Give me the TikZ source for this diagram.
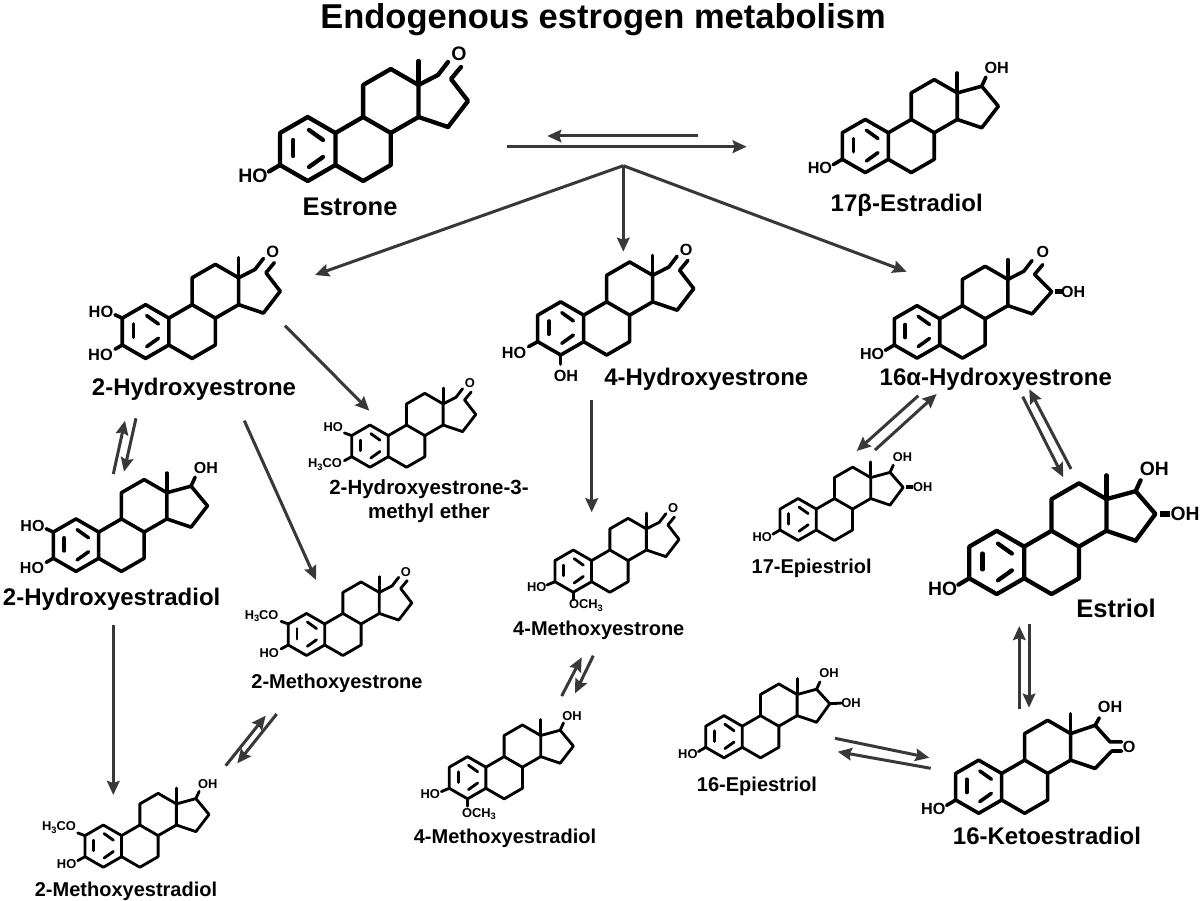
\documentclass[tikz,border=0pt]{standalone}
\usepackage{fontspec}
\setmainfont{Liberation Sans}
\usetikzlibrary{arrows.meta}
\definecolor{arrowgray}{HTML}{383838}
\newcounter{atomc}
\tikzset{
  bd/.style={line cap=round,line join=round,black},
  atomlab/.style={inner sep=0pt,font=\fontsize{\fs}{\fs}\selectfont\bfseries,text=black},
  rxnarrow/.style={draw=arrowgray,fill=arrowgray,line width=3pt,-{Stealth[length=14pt,width=12.5pt,inset=2pt]}},
  namelab/.style={inner sep=0pt,align=center,text=black}
}
% atom label in the local frame of a steroid
\newcommand\atom[3]{\stepcounter{atomc}\node[atomlab] (atom\theatomc) at (#1,#2) {#3};}
\newcommand\bnd[1]{\draw[bd] #1;}
% steroid skeleton without the top of ring D: x, y of C3, scale, extras
\newcommand\ster[4]{%
  \pgfmathsetmacro\lw{4.3*#3}\pgfmathsetmacro\fs{19.5*#3}%
  \begin{scope}[shift={(#1,#2)},x=#3pt,y=#3pt,line width=\lw pt]
    \draw[bd] (0,0)--(0,32)--(27.7,48)--(55.4,32)--(55.4,0)--(27.7,-16)--cycle;
    \draw[bd] (55.4,32)--(83.1,48)--(110.8,32)--(110.8,0)--(83.1,-16)--(55.4,0);
    \draw[bd] (83.1,48)--(83.1,80)--(110.8,96)--(138.5,80)--(138.5,48)--(110.8,32);
    \draw[bd] (138.5,48)--(168,38);
    \draw[bd] (138.5,80)--(138.5,104);
    \draw[bd] (13.3,25)--(13.3,9);
    \draw[bd] (29,35)--(43,25);
    \draw[bd] (29,-2)--(43,8);
    #4
  \end{scope}}
% ring D variants
\newcommand\Dketo{\bnd{(138.5,80)--(158,90)--(168,103)}\bnd{(181,98)--(171,86)--(188,64)--(168,38)}\atom{179}{111}{O}}
\newcommand\Dbeta{\bnd{(138.5,80)--(168,88)--(188,64)--(168,38)}\bnd{(168,88)--(173,99)}\atom{186}{110}{OH}}
\newcommand\Dalphaketo{\bnd{(138.5,80)--(158,90)--(168,103)}\bnd{(181,98)--(171,86)--(192,65)--(168,38)}\atom{181}{113}{O}\draw[bd,line width=1.4*\lw pt,line cap=butt] (196,65)--(204,65);\atom{218}{65}{OH}}
\newcommand\Dtriol{\bnd{(138.5,80)--(168,88)--(188,65)--(168,38)}\bnd{(168,88)--(173,99)}\draw[bd,line width=1.4*\lw pt,line cap=butt] (193,65)--(203,65);\atom{187}{111}{OH}\atom{218}{65}{OH}}
\newcommand\Depi{\bnd{(138.5,80)--(168,88)--(188,66)--(168,38)}\bnd{(168,88)--(173,99)}\bnd{(188,66)--(205,67)}\atom{187}{112}{OH}\atom{220}{67}{OH}}
\newcommand\Dketosixteen{\bnd{(138.5,80)--(168,90)--(186,70)--(200,70)}\bnd{(200,59)--(188,59)--(168,38)}\bnd{(168,90)--(173,99)}\atom{186}{111.6}{OH}\atom{209}{64}{O}}
% ring A substituents
\newcommand\HOthree{\bnd{(0,0)--(-11,-6.5)}\atom{-27}{-11}{HO}}
\newcommand\HOtwo{\bnd{(0,32)--(-8.7,36)}\atom{-25.4}{40}{HO}}
\newcommand\HOthreeb{\bnd{(0,0)--(-8.7,-5)}\atom{-26}{-12}{HO}}
\newcommand\methyl{H\raisebox{-.22em}{\scalebox{.72}{3}}CO}
\newcommand\methylb{OCH\raisebox{-.22em}{\scalebox{.72}{3}}}
% named compound label, centred on its capital height
\newcommand\lab[5]{\node[namelab,font=\fontsize{#4}{#4}\selectfont\bfseries,text height=.72*#4 pt,text depth=0pt] (#1) at (#2,#3) {#5};}
% reaction arrow between two named end points
\newcommand\rxn[5]{\coordinate (#1s) at (#2,#3);\coordinate (#1t) at (#4,#5);\draw[rxnarrow] (#1s)--(#1t);}
\begin{document}
\begin{tikzpicture}[x=1pt,y=-1pt]
\useasboundingbox[fill=white] (0,0) rectangle (1200,901);
\lab{title}{603}{16}{34.5}{Endogenous estrogen metabolism}
% structures
\ster{280}{165}{1}{\Dketo\HOthree}
\ster{842.3}{159.3}{.83}{\Dbeta\HOthree}
\ster{122.3}{345}{.84}{\Dketo\HOtwo\HOthreeb}
\ster{537.7}{341.7}{.83}{\Dketo\bnd{(0,0)--(-11,-6)}\atom{-28.5}{-13}{HO}\bnd{(27.7,-16)--(27.7,-27)}\atom{34}{-41}{OH}}
\ster{894.3}{345}{.82}{\Dalphaketo\HOthree}
\ster{351.7}{456.7}{.66}{\Dketo\bnd{(0,32)--(-11,36)}\atom{-27.8}{44.4}{HO}\bnd{(0,0)--(-11,-6)}\atom{-40.4}{-11.6}{\methyl}}
\ster{53.3}{558.3}{.82}{\Dbeta\HOtwo\HOthreeb}
\ster{288.3}{645}{.657}{\Dketo\bnd{(0,32)--(-11,36)}\atom{-40.6}{44}{\methyl}\bnd{(0,0)--(-11,-6)}\atom{-29}{-12.7}{HO}}
\ster{85}{856.7}{.66}{\Dbeta\bnd{(0,32)--(-11,36)}\atom{-39.4}{44.4}{\methyl}\bnd{(0,0)--(-11,-6)}\atom{-27.8}{-11.6}{HO}}
\ster{555}{581.7}{.66}{\Dketo\bnd{(0,0)--(-12,-5)}\atom{-27.8}{-7.6}{HO}\bnd{(27.7,-16)--(27.7,-27)}\atom{47}{-36.4}{\methylb}}
\ster{449.3}{788.3}{.66}{\Dbeta\bnd{(0,0)--(-12,-5)}\atom{-29}{-9}{HO}\bnd{(27.7,-16)--(27.7,-27)}\atom{45}{-39}{\methylb}}
\ster{780}{530}{.655}{\Dtriol\HOthree}
\ster{969.3}{578.3}{.99}{\Dtriol\HOthree}
\ster{705.7}{747.3}{.66}{\Depi\HOthree}
\ster{955.7}{800}{.83}{\Dketosixteen\HOthree}
% compound names
\lab{estrone}{350}{206.7}{25.5}{Estrone}
\lab{estradiol}{906.7}{203}{24}{17β-Estradiol}
\lab{twohe}{194}{387}{24}{2-Hydroxyestrone}
\lab{fourhe}{706.3}{377}{24}{4-Hydroxyestrone}
\lab{sixteenhe}{995.8}{377}{24}{16α-Hydroxyestrone}
\lab{twohe2}{111.7}{596.7}{24}{2-Hydroxyestradiol}
\lab{ether}{429}{511.5}{20.5}{2-Hydroxyestrone-3-\\[4pt]methyl ether}
\lab{twome}{337}{681.7}{20}{2-Methoxyestrone}
\lab{twome2}{126}{889}{20}{2-Methoxyestradiol}
\lab{fourme}{598.8}{628}{20}{4-Methoxyestrone}
\lab{fourme2}{505}{836.7}{20}{4-Methoxyestradiol}
\lab{episeventeen}{811.7}{566.7}{20}{17-Epiestriol}
\lab{estriol}{1116}{608}{25.5}{Estriol}
\lab{episixteen}{757}{784}{20}{16-Epiestriol}
\lab{ketosixteen}{1047}{835.7}{24}{16-Ketoestradiol}
% arrows
\rxn{a}{506.7}{146.7}{746.7}{146.7}
\rxn{b}{698.3}{136}{547.3}{136}
\rxn{c}{623.3}{165.7}{315}{275}
\rxn{d}{623.3}{165.7}{623.3}{251.7}
\rxn{e}{623.3}{165.7}{906.7}{271.7}
\rxn{f}{285}{325.7}{369.3}{410.7}
\rxn{g}{244.3}{420.7}{316}{580}
\rxn{h}{113.3}{474}{125}{420.7}
\rxn{i}{136}{418.3}{124}{471.7}
\rxn{j}{113.3}{625}{113.3}{795}
\rxn{k}{225.7}{765.7}{265.7}{715.7}
\rxn{l}{276.7}{714}{237.3}{763.3}
\rxn{m}{591.7}{400}{591.7}{512.3}
\rxn{n}{561.7}{696}{581.7}{657.3}
\rxn{o}{593.3}{655.7}{575}{693.3}
\rxn{p}{918.3}{395.7}{856.7}{451}
\rxn{q}{875}{450}{936.7}{394}
\rxn{r}{1022.7}{396.7}{1063.3}{477.3}
\rxn{s}{1071}{469}{1029.3}{389.3}
\rxn{t}{1019.3}{709}{1019.3}{626}
\rxn{u}{1029}{624.3}{1029}{707.7}
\rxn{v}{835}{738.3}{929.3}{757.7}
\rxn{w}{930.7}{768.3}{837.7}{751.7}
\end{tikzpicture}
\end{document}
